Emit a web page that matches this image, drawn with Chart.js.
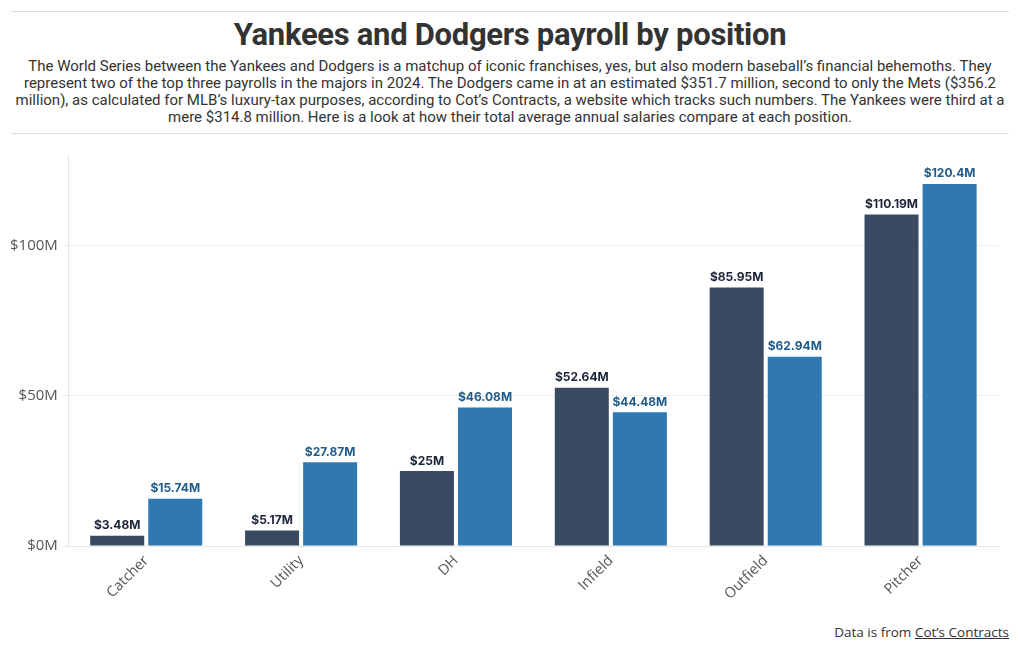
<!DOCTYPE html>
<html><head><meta charset="utf-8">
<script src="https://cdn.jsdelivr.net/npm/chart.js@4"></script>
<style>
html,body{margin:0;padding:0;background:#fff;}
body{width:1020px;height:650px;position:relative;overflow:hidden;font-family:Roboto, "Noto Sans", sans-serif;color:#333;}
#rule1{position:absolute;left:11px;top:11px;width:998px;border-top:1px solid #ddd;}
#rule2{position:absolute;left:11px;top:133px;width:998px;border-top:1px solid #ddd;}
#title{position:absolute;left:0;top:16px;width:1020px;text-align:center;font-size:31px;font-weight:700;color:#333;letter-spacing:-0.3px;}
#sub{position:absolute;left:0;top:58px;width:1020px;text-align:center;font-size:15px;line-height:17px;color:#333;white-space:nowrap;}
#foot{position:absolute;right:11px;top:623px;font-size:13.5px;color:#333;font-family:"Open Sans",sans-serif;}
#foot u{text-decoration:underline;}
#wrap{position:absolute;left:0;top:141px;width:1020px;height:468px;}
</style></head><body>
<div id="rule1"></div>
<div id="title">Yankees and Dodgers payroll by position</div>
<div id="sub">The World Series between the Yankees and Dodgers is a matchup of iconic franchises, yes, but also modern baseball’s financial behemoths. They<br>represent two of the top three payrolls in the majors in 2024. The Dodgers came in at an estimated $351.7 million, second to only the Mets ($356.2<br>million), as calculated for MLB’s luxury-tax purposes, according to Cot’s Contracts, a website which tracks such numbers. The Yankees were third at a<br>mere $314.8 million. Here is a look at how their total average annual salaries compare at each position.</div>
<div id="rule2"></div>
<div id="wrap"><canvas id="c" width="1020" height="468"></canvas></div>
<div id="foot">Data is from <u>Cot’s Contracts</u></div>
<script>
const categories = ["Catcher","Utility","DH","Infield","Outfield","Pitcher"];
const yankees = [3.48, 5.17, 25, 52.64, 85.95, 110.19];
const dodgers = [15.74, 27.87, 46.08, 44.48, 62.94, 120.4];
const yankeesLabels = ["$3.48M","$5.17M","$25M","$52.64M","$85.95M","$110.19M"];
const dodgersLabels = ["$15.74M","$27.87M","$46.08M","$44.48M","$62.94M","$120.4M"];
const yTicks = [0, 50, 100];

const labelPlugin = {
  id: 'barLabels',
  afterDatasetsDraw(chart) {
    const ctx = chart.ctx;
    const sets = [yankeesLabels, dodgersLabels];
    const cols = ['#1b2438', '#1f5b8c'];
    chart.data.datasets.forEach((ds, i) => {
      const meta = chart.getDatasetMeta(i);
      meta.data.forEach((bar, j) => {
        ctx.save();
        ctx.font = '700 12px Inter, "Open Sans", sans-serif';
        ctx.fillStyle = cols[i];
        ctx.textAlign = 'center';
        ctx.textBaseline = 'bottom';
        ctx.fillText(sets[i][j], bar.x, bar.y - 4);
        ctx.restore();
      });
    });
  }
};

new Chart(document.getElementById('c'), {
  type: 'bar',
  data: {
    labels: categories,
    datasets: [
      {label: 'Yankees', data: yankees, backgroundColor: '#3a4a63', categoryPercentage: 0.75, barPercentage: 0.93},
      {label: 'Dodgers', data: dodgers, backgroundColor: '#2f78b0', categoryPercentage: 0.75, barPercentage: 0.93}
    ]
  },
  options: {
    responsive: false,
    animation: false,
    devicePixelRatio: 1,
    layout: {padding: {left: 6, right: 22, top: 14, bottom: 0}},
    plugins: {legend: {display: false}, tooltip: {enabled: false}},
    scales: {
      x: {
        grid: {display: false, drawTicks: false},
        border: {color: '#e6e6e6'},
        ticks: {color: '#555', font: {family: '"Open Sans", sans-serif', size: 14.5}, maxRotation: 45, minRotation: 45, padding: 6}
      },
      y: {
        min: 0, max: 130,
        afterBuildTicks: (axis) => { axis.ticks = yTicks.map(v => ({value: v})); },
        grid: {color: '#eeeeee', tickLength: 7},
        border: {color: '#e6e6e6'},
        ticks: {color: '#555', font: {family: '"Open Sans", sans-serif', size: 15}, padding: 4, callback: v => '$' + v + 'M'}
      }
    }
  },
  plugins: [labelPlugin]
});
</script>
</body></html>
